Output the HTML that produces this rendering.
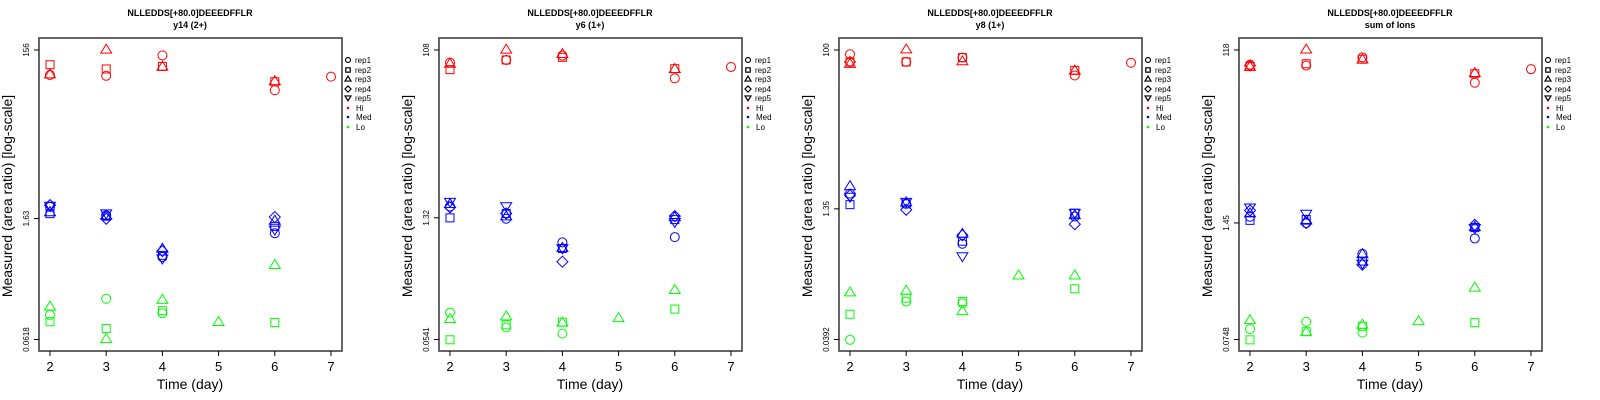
<!DOCTYPE html>
<html><head><meta charset="utf-8"><style>
html,body{margin:0;padding:0;background:#fff;width:1600px;height:400px;overflow:hidden}
svg{display:block;font-family:"Liberation Sans",sans-serif}
</style></head><body>
<svg id="chart" width="1600" height="400" viewBox="0 0 1600 400"></svg>
<script>
// Values are log10(area ratio).
const days = [2,3,4,5,6,7];
const replicates = ["rep1","rep2","rep3","rep4","rep5"];
const levels = ["Hi","Med","Lo"];
const levelColors = ["#ff0000","#0000ff","#00ff00"];
const panelTitles = ["y14 (2+)","y6 (1+)","y8 (1+)","sum of Ions"];
const tickMax = [156,108,100,118];
const tickMid = [1.63,1.32,1.35,1.45];
const tickMin = [0.0618,0.0541,0.0392,0.0748];
const tickLabelsMax = ["156","108","100","118"];
const tickLabelsMid = ["1.63","1.32","1.35","1.45"];
const tickLabelsMin = ["0.0618","0.0541","0.0392","0.0748"];
// each point: [day, level index, rep index, log10 value]
const panel1Points = [
 [2,0,0,1.90],[2,0,1,2.02],[2,0,2,1.91],[3,0,2,2.20],[3,0,1,1.97],[3,0,0,1.89],[4,0,0,2.13],[4,0,1,2.00],[4,0,2,2.00],[6,0,2,1.83],[6,0,1,1.82],[6,0,0,1.72],[7,0,0,1.88],
 [2,1,0,0.35],[2,1,1,0.27],[2,1,2,0.29],[2,1,3,0.37],[2,1,4,0.36],
 [3,1,0,0.25],[3,1,1,0.24],[3,1,2,0.25],[3,1,3,0.21],[3,1,4,0.27],
 [4,1,0,-0.24],[4,1,1,-0.22],[4,1,2,-0.14],[4,1,3,-0.17],[4,1,4,-0.26],
 [6,1,0,0.04],[6,1,1,0.12],[6,1,2,0.19],[6,1,3,0.23],[6,1,4,0.08],
 [2,2,0,-0.92],[2,2,1,-1.00],[2,2,2,-0.82],[3,2,0,-0.73],[3,2,1,-1.08],[3,2,2,-1.20],
 [4,2,0,-0.90],[4,2,1,-0.87],[4,2,2,-0.74],[5,2,2,-1.00],[6,2,1,-1.01],[6,2,2,-0.33]
];
const panel2Points = [
 [2,0,0,1.89],[2,0,1,1.81],[2,0,2,1.88],[3,0,2,2.04],[3,0,1,1.92],[3,0,0,1.92],[4,0,2,1.99],[4,0,1,1.95],[4,0,0,1.97],[6,0,1,1.82],[6,0,2,1.82],[6,0,0,1.71],[7,0,0,1.84],
 [2,1,0,0.25],[2,1,1,0.12],[2,1,2,0.28],[2,1,3,0.24],[2,1,4,0.30],
 [3,1,0,0.11],[3,1,1,0.17],[3,1,2,0.14],[3,1,3,0.17],[3,1,4,0.25],
 [4,1,0,-0.16],[4,1,1,-0.23],[4,1,2,-0.22],[4,1,3,-0.38],[4,1,4,-0.23],
 [6,1,0,-0.10],[6,1,1,0.10],[6,1,2,0.13],[6,1,3,0.14],[6,1,4,0.07],
 [2,2,0,-0.96],[2,2,1,-1.27],[2,2,2,-1.03],[3,2,0,-1.13],[3,2,1,-1.10],[3,2,2,-1.00],
 [4,2,0,-1.20],[4,2,1,-1.07],[4,2,2,-1.07],[5,2,2,-1.02],[6,2,1,-0.92],[6,2,2,-0.70]
];
const panel3Points = [
 [2,0,0,1.95],[2,0,1,1.86],[2,0,2,1.84],[2,0,3,1.86],[3,0,2,2.01],[3,0,1,1.86],[3,0,0,1.86],[4,0,1,1.91],[4,0,0,1.91],[4,0,2,1.87],[6,0,1,1.76],[6,0,2,1.76],[6,0,0,1.70],[7,0,0,1.85],
 [2,1,0,0.31],[2,1,1,0.18],[2,1,2,0.40],[2,1,3,0.29],[2,1,4,0.27],
 [3,1,0,0.19],[3,1,1,0.19],[3,1,2,0.21],[3,1,3,0.12],[3,1,4,0.21],
 [4,1,0,-0.28],[4,1,1,-0.25],[4,1,2,-0.16],[4,1,3,-0.18],[4,1,4,-0.43],
 [6,1,0,0.04],[6,1,1,0.08],[6,1,2,0.06],[6,1,3,-0.05],[6,1,4,0.08],
 [2,2,0,-1.41],[2,2,1,-1.11],[2,2,2,-0.85],[3,2,0,-0.96],[3,2,1,-0.92],[3,2,2,-0.83],
 [4,2,0,-0.98],[4,2,1,-0.96],[4,2,2,-1.07],[5,2,2,-0.65],[6,2,1,-0.81],[6,2,2,-0.65]
];
const panel4Points = [
 [2,0,0,1.91],[2,0,1,1.89],[2,0,2,1.89],[2,0,3,1.90],[3,0,2,2.08],[3,0,1,1.92],[3,0,0,1.90],[4,0,0,1.99],[4,0,2,1.97],[4,0,1,1.97],[6,0,1,1.81],[6,0,2,1.82],[6,0,0,1.71],[7,0,0,1.86],
 [2,1,0,0.23],[2,1,1,0.19],[2,1,2,0.27],[2,1,3,0.30],[2,1,4,0.33],
 [3,1,0,0.16],[3,1,1,0.20],[3,1,2,0.19],[3,1,3,0.16],[3,1,4,0.26],
 [4,1,0,-0.18],[4,1,1,-0.26],[4,1,2,-0.18],[4,1,3,-0.30],[4,1,4,-0.29],
 [6,1,0,-0.01],[6,1,1,0.11],[6,1,2,0.12],[6,1,3,0.14],[6,1,4,0.10],
 [2,2,0,-1.01],[2,2,1,-1.13],[2,2,2,-0.91],[3,2,0,-0.93],[3,2,1,-1.04],[3,2,2,-1.04],
 [4,2,0,-1.05],[4,2,1,-0.98],[4,2,2,-0.96],[5,2,2,-0.92],[6,2,1,-0.94],[6,2,2,-0.55]
];
const allPanels = [panel1Points,panel2Points,panel3Points,panel4Points];

const NS="http://www.w3.org/2000/svg";
const svg=document.getElementById('chart');
function mk(tag,attrs,parent){const e=document.createElementNS(NS,tag);for(const k in attrs)e.setAttribute(k,attrs[k]);(parent||svg).appendChild(e);return e;}
function txt(s,attrs,parent){const e=mk('text',attrs,parent);e.textContent=s;return e;}
function marker(g,rep,cx,cy,col,s){
  let e;
  if(rep===0){e=mk('circle',{cx:cx,cy:cy,r:4.5*s},g);}
  else if(rep===1){e=mk('rect',{x:cx-4*s,y:cy-4*s,width:8*s,height:8*s},g);}
  else if(rep===2){const h=5.2*s;e=mk('polygon',{points:`${cx},${cy-h} ${cx-h*1.05},${cy+h*0.72} ${cx+h*1.05},${cy+h*0.72}`},g);}
  else if(rep===3){const h=5.5*s;e=mk('polygon',{points:`${cx},${cy-h} ${cx+h},${cy} ${cx},${cy+h} ${cx-h},${cy}`},g);}
  else {const h=5.2*s;e=mk('polygon',{points:`${cx},${cy+h} ${cx-h*1.05},${cy-h*0.72} ${cx+h*1.05},${cy-h*0.72}`},g);}
  e.setAttribute('fill','none');e.setAttribute('stroke',col);e.setAttribute('stroke-width',s<1?1.2:1);
  return e;
}
const X0=39,X1=342,Y0=38,Y1=351,YT=50,YB=339.5;
for(let p=0;p<4;p++){
  const ox=p*400;
  const g=mk('g',{transform:`translate(${ox},0)`});
  
  
  const lmax=Math.log10(tickMax[p]),lmin=Math.log10(tickMin[p]);
  const yS=l=>YT+(lmax-l)/(lmax-lmin)*(YB-YT);
  const xS=d=>50+(d-2)*(331-50)/5;
  let t=txt('NLLEDDS[+80.0]DEEEDFFLR',{x:190,y:16,'text-anchor':'middle','font-size':9,'font-weight':'bold'},g);
  
  t=txt(panelTitles[p],{x:190,y:28,'text-anchor':'middle','font-size':9,'font-weight':'bold'},g);
  
  const box=mk('rect',{x:X0,y:Y0,width:X1-X0,height:Y1-Y0,fill:'none',stroke:'#555','stroke-width':1.8},g);
  
  const yt=[[tickMax[p],tickLabelsMax[p]],[tickMid[p],tickLabelsMid[p]],[tickMin[p],tickLabelsMin[p]]];
  yt.forEach(([v,lab])=>{
    const y=yS(Math.log10(v));
    const tk=mk('line',{x1:X0,x2:X0-5,y1:y,y2:y,stroke:'#000','stroke-width':1},g);
    
    const tl=txt(lab,{x:0,y:0,'text-anchor':'middle','font-size':8,transform:`translate(29,${y}) rotate(-90)`},g);
    
  });
  days.forEach(d=>{
    const x=xS(d);
    const tk=mk('line',{x1:x,x2:x,y1:Y1,y2:Y1+5,stroke:'#000','stroke-width':1},g);
    
    const tl=txt(String(d),{x:x,y:371,'text-anchor':'middle','font-size':13},g);
    
  });
  t=txt('Time (day)',{x:190,y:389,'text-anchor':'middle','font-size':14},g);
  
  t=txt('Measured (area ratio) [log-scale]',{x:0,y:0,'text-anchor':'middle','font-size':14,transform:'translate(12,196) rotate(-90)'},g);
  
  allPanels[p].forEach(pt=>{
    const m=marker(g,pt[2],xS(pt[0]),yS(pt[3]),levelColors[pt[1]],1);
    
    
  });
  const lg=mk('g',{},g);
  
  const rowsY=[60,70,79,89,98,108,117,127];
  replicates.forEach((r,i)=>{
    const m=marker(lg,i,348,rowsY[i],'#000',0.55);
    
    const lt=txt(r,{x:355,y:rowsY[i]+3,'font-size':8},lg);
    
  });
  levels.forEach((l,i)=>{
    const y=rowsY[5+i];
    const m=mk('circle',{cx:348,cy:y,r:1.3,fill:levelColors[i]},lg);
    
    const lt=txt(l,{x:356,y:y+3,'font-size':8},lg);
    
  });
}
</script>
</body></html>
